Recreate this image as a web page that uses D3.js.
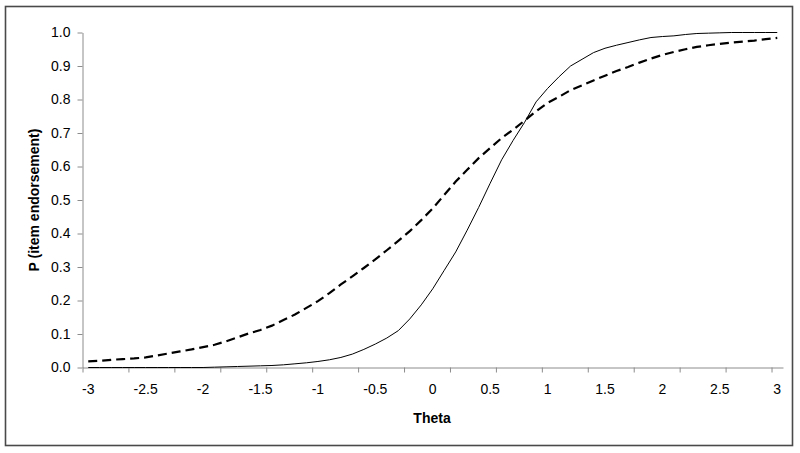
<!DOCTYPE html>
<html>
<head>
<meta charset="utf-8">
<script src="https://cdn.jsdelivr.net/npm/d3@7"></script>
<style>
  body { margin: 0; background: #fff; }
  svg { display: block; font-family: Arial, "Liberation Sans", sans-serif; }
  .eje text { font-size: 14px; fill: #000; }
  .eje path, .eje line { stroke: #8c8c8c; }
</style>
</head>
<body>
<div id="graf"></div>
<script>
// datos
thetas = ['-3', '-2.9', '-2.8', '-2.7', '-2.6', '-2.5', '-2.4', '-2.3', '-2.2', '-2.1',
          '-2', '-1.9', '-1.8', '-1.7', '-1.6', '-1.5', '-1.4', '-1.3', '-1.2', '-1.1',
          '-1', '-0.9', '-0.8', '-0.7', '-0.6', '-0.5', '-0.4', '-0.3', '-0.2', '-0.1',
          '0', '0.1', '0.2', '0.3', '0.4', '0.5', '0.6', '0.7', '0.8', '0.9',
          '1', '1.1', '1.2', '1.3', '1.4', '1.5', '1.6', '1.7', '1.8', '1.9',
          '2', '2.1', '2.2', '2.3', '2.4', '2.5', '2.6', '2.7', '2.8', '2.9', '3']

// curva continua (empinada)
solido = [0.000, 0.000, 0.000, 0.000, 0.000, 0.000, 0.000, 0.000, 0.000, 0.000,
          0.000, 0.001, 0.002, 0.003, 0.004, 0.005, 0.006, 0.008, 0.011, 0.014,
          0.018, 0.023, 0.030, 0.040, 0.054, 0.070, 0.088, 0.110, 0.145, 0.187,
          0.235, 0.290, 0.345, 0.410, 0.478, 0.550, 0.620, 0.678, 0.732, 0.793,
          0.833, 0.868, 0.900, 0.920, 0.940, 0.953, 0.962, 0.970, 0.978, 0.985,
          0.988, 0.990, 0.994, 0.997, 0.998, 0.999, 1.000, 1.000, 1.000, 1.000, 1.000]

// curva discontinua
punteado = [0.018, 0.020, 0.023, 0.025, 0.027, 0.030, 0.036, 0.042, 0.048, 0.054,
            0.061, 0.068, 0.078, 0.090, 0.102, 0.112, 0.125, 0.142, 0.158, 0.178,
            0.198, 0.222, 0.248, 0.272, 0.297, 0.323, 0.350, 0.378, 0.407, 0.440,
            0.475, 0.515, 0.555, 0.590, 0.625, 0.655, 0.685, 0.710, 0.737, 0.765,
            0.790, 0.808, 0.828, 0.842, 0.857, 0.871, 0.885, 0.897, 0.910, 0.922,
            0.933, 0.942, 0.950, 0.957, 0.962, 0.966, 0.970, 0.973, 0.976, 0.980, 0.984]

yTicks = [0, 0.1, 0.2, 0.3, 0.4, 0.5, 0.6, 0.7, 0.8, 0.9, 1.0]

// Configuracion de margenes
ancho_total = 800
alto_total = 453
margins = { top: 32.5, left: 82.5, right: 17, bottom: 85.5 }
ancho = ancho_total - margins.left - margins.right
alto = alto_total - margins.top - margins.bottom

svg = d3.select('#graf').append('svg')
        .attr('width', ancho_total)
        .attr('height', alto_total)

// borde del grafico
svg.append('rect')
   .attr('x', 5.5).attr('y', 6.5)
   .attr('width', 787).attr('height', 439)
   .attr('fill', '#fff')
   .attr('stroke', '#4a4a4a')
   .attr('stroke-width', 1.6)

g = svg.append('g')
       .attr('transform', `translate(${ margins.left }, ${ margins.top })`)

// escalas
x = d3.scaleBand()
      .domain(thetas)
      .range([0, ancho])
      .padding(0)

// posiciones de los limites entre categorias (para las marcas)
xb = d3.scaleLinear()
       .domain([0, thetas.length])
       .range([0, ancho])

y = d3.scaleLinear()
      .domain([0, 1])
      .range([alto, 0])

// eje y
g.append('g')
 .attr('class', 'eje')
 .call(d3.axisLeft(y)
         .tickValues(yTicks)
         .tickFormat(d3.format('.1f'))
         .tickSize(5)
         .tickSizeOuter(0)
         .tickPadding(7))

// eje x: marcas cada 4 categorias
g.append('g')
 .attr('class', 'eje')
 .attr('transform', `translate(0, ${ alto })`)
 .call(d3.axisBottom(xb)
         .tickValues(d3.range(0, thetas.length, 4))
         .tickFormat('')
         .tickSize(5)
         .tickSizeOuter(0))

// etiquetas cada 5 categorias
g.append('g')
 .attr('class', 'eje')
 .attr('transform', `translate(0, ${ alto })`)
 .call(d3.axisBottom(x)
         .tickValues(thetas.filter((d, i) => i % 5 == 0))
         .tickSize(0)
         .tickPadding(17))
 .call(a => a.select('.domain').remove())

// lineas
linea = serie => d3.line()
   .x((d, i) => x(thetas[i]) + x.bandwidth() / 2)
   .y(d => y(d))(serie)

g.append('path')
 .attr('d', linea(punteado))
 .attr('fill', 'none')
 .attr('stroke', '#000')
 .attr('stroke-width', 2.2)
 .attr('stroke-dasharray', '9,5')

g.append('path')
 .attr('d', linea(solido))
 .attr('fill', 'none')
 .attr('stroke', '#000')
 .attr('stroke-width', 1)

// titulos de ejes
svg.append('text')
   .attr('x', 432)
   .attr('y', 423)
   .attr('text-anchor', 'middle')
   .style('font-size', '14px')
   .style('font-weight', 'bold')
   .text('Theta')

svg.append('text')
   .attr('transform', `translate(39, ${ margins.top + alto / 2 }) rotate(-90)`)
   .attr('text-anchor', 'middle')
   .style('font-size', '14px')
   .style('font-weight', 'bold')
   .text('P (item endorsement)')
</script>
</body>
</html>
